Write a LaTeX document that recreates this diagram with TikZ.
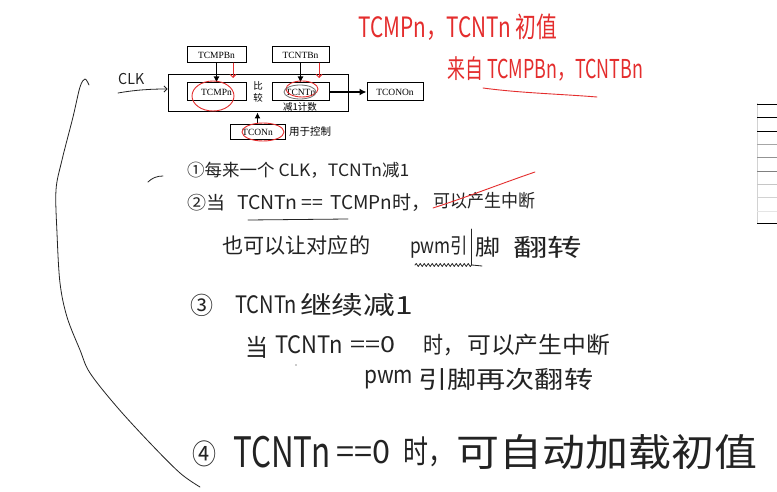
\documentclass[tikz,border=0pt]{standalone}
\usepackage{fontspec}
\usepackage{graphicx}
\usetikzlibrary{arrows.meta,decorations.pathmorphing}
\setmainfont{Liberation Serif}
\newfontfamily\hwfont{Noto Sans CJK SC}
\newfontfamily\serfont{Liberation Serif}
\newcommand\hwt[3]{{\hwfont\fontsize{#1}{#1}\selectfont\resizebox{#2pt}{\height}{#3}}}
\definecolor{ink}{RGB}{35,35,35}
\definecolor{redink}{RGB}{228,45,45}
\definecolor{ovalgray}{RGB}{110,110,110}
\begin{document}
\begin{tikzpicture}[x=1pt,y=-1pt,
  hw/.style={anchor=west, inner sep=0pt, text=ink},
  rd/.style={anchor=west, inner sep=0pt, text=redink},
  blk/.style={draw, line width=1pt, inner sep=0pt, font=\serfont\fontsize{9.5}{9.5}\selectfont},
  lab/.style={inner sep=0pt, font=\hwfont\fontsize{9.5}{9.5}\selectfont},
  inkline/.style={draw=ink, line width=0.8pt, line cap=round, line join=round},
  rpen/.style={draw=redink, line width=0.9pt, line cap=round, line join=round},
  blkarrow/.style={line width=1.1pt, -{Latex[length=6pt,width=6pt]}}]
\fill[white] (0,0) rectangle (777,492);
\useasboundingbox (0,0) rectangle (777,492);

% ---------- block diagram ----------
\node[blk, minimum width=59pt, minimum height=16pt] (cmpb) at (216.5,55) {TCMPBn};
\node[blk, minimum width=57pt, minimum height=16pt] (cntb) at (300.5,55) {TCNTBn};
\node[blk, minimum width=180pt, minimum height=37pt] (big) at (258,93.5) {};
\node[blk, minimum width=59pt, minimum height=18pt] (cmp) at (216.5,92) {TCMPn};
\node[blk, minimum width=57pt, minimum height=18pt] (cnt) at (300.5,92) {TCNTn};
\node[blk, minimum width=56pt, minimum height=18pt] (out) at (395,92) {TCONOn};
\node[blk, minimum width=55pt, minimum height=15pt] (con) at (257.5,132.5) {TCONn};
\node[lab] (bi) at (258,86) {比};
\node[lab] (jiao) at (258,97.5) {较};
\node[lab] (jian) at (300,106.5) {减1计数};
\node[lab, font=\hwfont\fontsize{10.5}{10.5}\selectfont] (yong) at (310,132) {用于控制};

\draw[blkarrow] (cmpb) -- (cmp);
\draw[blkarrow] (cntb) -- (cnt);
\draw[line width=1.8pt, -{Latex[length=7pt,width=7pt]}] (cnt) -- (out);
\draw[blkarrow] (con.north) -- (con.north |- big.south);

% CLK
\node[hw] (clk) at (118,79) {\hwt{15}{26}{CLK}};
\coordinate (clkstart) at (118,93);
\draw[inkline, -{Straight Barb[length=3pt,width=6pt]}] (clkstart) .. controls (135,90) and (150,89) .. ([yshift=4.5pt]big.west);

% red marks on the diagram
\coordinate (ra1) at (233,63); \coordinate (ra1e) at (233,78);
\coordinate (ra2) at (319,63); \coordinate (ra2e) at (319,78);
\draw[rpen, -{Straight Barb[length=3pt,width=6pt]}] (ra1) -- (ra1e);
\draw[rpen, -{Straight Barb[length=3pt,width=6pt]}] (ra2) -- (ra2e);
\draw[rpen] (213,96) ellipse [x radius=21, y radius=15];
\draw[rpen] (302,89) ellipse [x radius=16, y radius=8];
\draw[draw=ovalgray, line width=0.8pt] (300,92) ellipse [x radius=16, y radius=7];
\draw[rpen] (263,132) ellipse [x radius=21, y radius=9];

% ---------- red notes ----------
\node[rd] (r1) at (358,27) {\hwt{28}{199}{TCMPn，TCNTn 初值}};
\node[rd] (r2) at (447,69) {\hwt{26}{196}{来自 TCMPBn，TCNTBn}};
\draw[rpen] (483,88) .. controls (520,93) and (560,94) .. (597,97);

% ---------- black notes ----------
\draw[inkline] (148,182) .. controls (152,178) and (157,176) .. (163,176);
\node[hw] (l1) at (187,170) {\hwt{17}{222}{①每来一个 CLK，TCNTn减1}};

\node[hw] (l2a) at (187,203) {\hwt{18}{38}{②当}};
\node[hw] (l2b) at (237,203) {\hwt{19}{86}{TCNTn ==}};
\node[hw] (l2c) at (330,203) {\hwt{19}{100}{TCMPn时，}};
\node[hw] (l2d) at (433,201) {\hwt{18}{102}{可以产生中断}};
\draw[inkline] (248,220) -- (348,219);
\draw[rpen] (433,208) .. controls (470,196) and (500,184) .. (535,172);

\node[hw] (l3a) at (222,246) {\hwt{21}{148}{也可以让对应的}};
\node[hw] (l3b) at (410,247) {\hwt{21}{58}{pwm引}};
\draw[inkline] (471,229) -- (471,265);
\node[hw] (l3c) at (475,247) {\hwt{22}{25}{脚}};
\node[hw] (l3d) at (513,247) {\hwt{24}{69}{翻转}};
\draw[inkline, decorate, decoration={snake, amplitude=1.5pt, segment length=4pt}] (415,265) -- (472,265);
\draw[inkline] (472,265) -- (482,266);

\node[hw] (l4a) at (190,305) {\hwt{24}{23}{③}};
\node[hw] (l4b) at (235,305) {\hwt{24}{62}{TCNTn}};
\node[hw] (l4c) at (300,305) {\hwt{25}{113}{继续减1}};

\node[hw] (l5a) at (245,347) {\hwt{24}{23}{当}};
\node[hw] (l5b) at (275,345) {\hwt{24}{68}{TCNTn}};
\node[hw] (l5c) at (350,345) {\hwt{22}{45}{==0}};
\node[hw] (l5d) at (423,345) {\hwt{23}{40}{时，}};
\node[hw] (l5e) at (467,345) {\hwt{23}{143}{可以产生中断}};
\fill[ink] (296,365) circle (0.7);

\node[hw] (l6a) at (364,380) {\hwt{24}{49}{pwm}};
\node[hw] (l6b) at (418,379) {\hwt{24}{175}{引脚再次翻转}};

\node[hw] (l7a) at (192,454) {\hwt{28}{24}{④}};
\node[hw] (l7b) at (233,452) {\hwt{42}{97}{TCNTn}};
\node[hw] (l7c) at (336,452) {\hwt{32}{54}{==0}};
\node[hw] (l7d) at (403,452) {\hwt{32}{50}{时，}};
\node[hw] (l7e) at (456,452) {\hwt{38}{301}{可自动加载初值}};

% big left curve
\draw[inkline] plot[smooth, tension=0.55] coordinates {(89,85) (85,79) (80,87) (73,117) (62,160) (56,190) (57,233) (60,283) (67,317) (80,350) (90,373) (117,407) (150,443) (180,473) (200,487)};

% table edge at the right
\draw[gray!35, line width=0.8pt] (757,103) -- (757,223);
\foreach \yy/\cc in {104/black,117/black,131/black,144/gray!70,157/gray!85,171/gray,184/gray!45,197/gray!35,211/gray!20,223/black}
  \draw[\cc, line width=0.9pt] (757,\yy) -- (777,\yy);
\end{tikzpicture}
\end{document}
